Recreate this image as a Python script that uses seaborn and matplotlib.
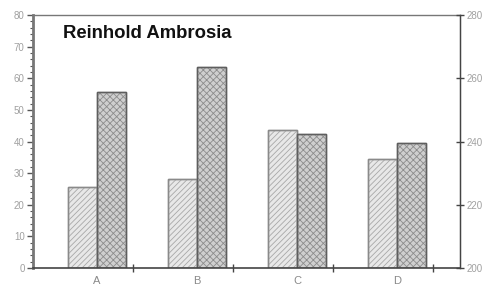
import matplotlib
matplotlib.use("Agg")
import matplotlib.pyplot as plt
import seaborn as sns
import pandas as pd
import numpy as np
from matplotlib.ticker import MultipleLocator, FixedLocator
from matplotlib.patches import Rectangle

categories = ["A", "B", "C", "D"]
series1 = [25.5, 28.0, 43.5, 34.5]
series2 = [55.5, 63.5, 42.5, 39.5]
series_names = ["S1", "S2"]

df = pd.DataFrame({
    "cat": categories * 2,
    "val": series1 + series2,
    "ser": [series_names[0]] * 4 + [series_names[1]] * 4,
})

sns.set_style("white")
plt.rcParams["font.family"] = ["Liberation Sans", "DejaVu Sans"]
plt.rcParams["hatch.linewidth"] = 0.6

fig = plt.figure(figsize=(4.93, 2.97), dpi=100)
ax = fig.add_axes([33/493, 1-268/297, 427/493, 253/297])

sns.barplot(data=df, x="cat", y="val", hue="ser", ax=ax, width=0.58,
            palette=["#e8e8e8", "#cfcfcf"], legend=False, saturation=1)

hatches = ["//////", "xxxxx"]
hatch_cols = ["#a8a8a8", "#8c8c8c"]
edges = ["#8a8a8a", "#5e5e5e"]
for i, cont in enumerate(ax.containers):
    for p in cont:
        p.set_edgecolor(edges[i])
        p.set_linewidth(1.0)
        h = Rectangle(p.get_xy(), p.get_width(), p.get_height(), fill=False,
                      hatch=hatches[i], edgecolor=hatch_cols[i], linewidth=0,
                      zorder=p.get_zorder() + 0.1)
        ax.add_patch(h)
        p.set_zorder(p.get_zorder())
        edge = Rectangle(p.get_xy(), p.get_width(), p.get_height(), fill=False,
                         edgecolor=edges[i], linewidth=1.0, zorder=p.get_zorder() + 0.2)
        ax.add_patch(edge)

ax.set_xlim(-0.64, 3.63)
ax.set_ylim(0, 80)
ax.yaxis.set_major_locator(MultipleLocator(10))
ax.yaxis.set_minor_locator(MultipleLocator(2))
ax.xaxis.set_minor_locator(FixedLocator([0.36, 1.36, 2.36, 3.36]))
ax.set_xlabel("")
ax.set_ylabel("")
for s in ax.spines.values():
    s.set_visible(True)
    s.set_color("#444444")
    s.set_linewidth(1.0)
ax.spines["left"].set_linewidth(2.0)
ax.spines["left"].set_color("#777777")
ax.spines["bottom"].set_linewidth(1.2)
ax.spines["top"].set_color("#777777")
ax.tick_params(axis="y", which="major", length=4, width=1, color="#555555",
               labelsize=7, labelcolor="#a0a0a0", direction="out", pad=2, left=True)
ax.tick_params(axis="y", which="minor", length=2, width=0.8, color="#555555",
               direction="out", left=True)
ax.tick_params(axis="x", which="major", length=0, labelsize=8, labelcolor="#8a8a8a", pad=6)
ax.tick_params(axis="x", which="minor", length=6, width=1, color="#444444",
               direction="inout", bottom=True)

ax2 = ax.twinx()
ax2.set_ylim(200, 280)
ax2.yaxis.set_major_locator(MultipleLocator(20))
ax2.tick_params(axis="y", length=6, width=1, color="#444444", direction="inout",
                labelsize=7, labelcolor="#a0a0a0", pad=2)
for s in ax2.spines.values():
    s.set_visible(False)
ax2.spines["right"].set_visible(True)
ax2.spines["right"].set_color("#444444")

ax.text(0.07, 0.925, "Reinhold Ambrosia", transform=ax.transAxes, fontsize=13.3,
        fontweight="bold", color="#111111", va="center", ha="left")

fig.savefig("out.png", dpi=100)
